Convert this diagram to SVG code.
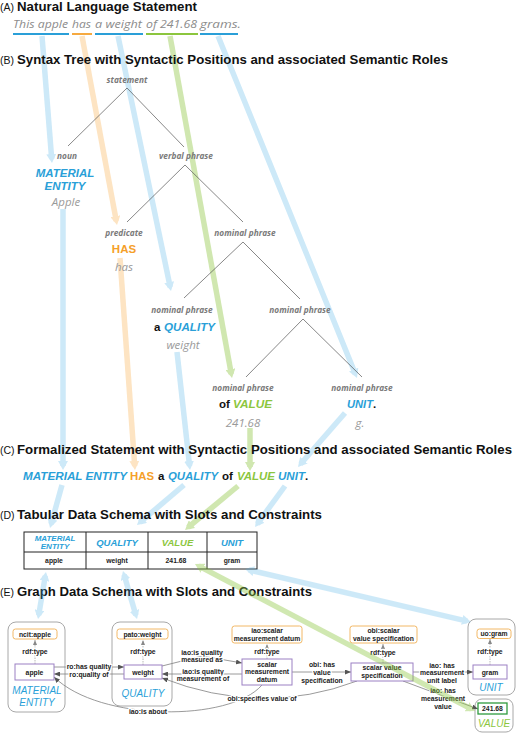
<svg xmlns="http://www.w3.org/2000/svg" width="520" height="739" viewBox="0 0 520 739">
<defs>
<style>
.title{font-family:"Liberation Sans",Arial,sans-serif;font-weight:bold;font-size:13.3px;fill:#111}
.tag{font-family:"Liberation Sans",Arial,sans-serif;font-size:10.5px;fill:#111}
.sent{font-family:"Open Sans",sans-serif;font-style:italic;font-size:11.5px;fill:#8c8c8c}
.syn{font-family:"Open Sans",sans-serif;font-style:italic;font-weight:bold;font-size:8.3px;fill:#7a7a7a;text-anchor:middle}
.word{font-family:"Open Sans",sans-serif;font-style:italic;font-size:11.5px;fill:#9a9a9a;text-anchor:middle}
.role{font-family:"Liberation Sans",Arial,sans-serif;font-style:italic;font-weight:bold;font-size:11.5px}
.blue{fill:#2a9fd8}.orange{fill:#f5a02a}.green{fill:#8cc63e}
.blk{fill:#111;font-style:normal}.up{font-style:normal}
.tree{stroke:#555;stroke-width:0.7;fill:none}
.ul{stroke-width:1.8;fill:none}
.big{stroke-width:5.5;fill:none}
.outer{fill:#fff;stroke:#a8a8a8;stroke-width:1}
.cls{fill:#fff;stroke:#f2b866;stroke-width:1}
.inst{fill:#fff;stroke:#9b80c3;stroke-width:1}
.gt{font-family:"Liberation Sans",Arial,sans-serif;font-weight:bold;font-size:6.8px;fill:#222;text-anchor:middle}
.el{stroke:#fff;stroke-width:2.5;paint-order:stroke;stroke-linejoin:round}
.edge{stroke:#808080;stroke-width:0.8;fill:none;marker-end:url(#ah)}
.typ{stroke:#999;stroke-width:0.7;fill:none;stroke-dasharray:1.5 1;marker-end:url(#ah2)}
.gl{font-family:"Liberation Sans",Arial,sans-serif;font-style:italic;font-size:10px;text-anchor:middle}
.th{font-family:"Liberation Sans",Arial,sans-serif;font-style:italic;font-weight:bold;font-size:9.5px;text-anchor:middle}
</style>
<marker id="hb" markerUnits="userSpaceOnUse" markerWidth="10" markerHeight="10" refX="5" refY="5" orient="auto-start-reverse"><path d="M0,0 L9,5 L0,10 z" fill="#cde9f8"/></marker>
<marker id="ho" markerUnits="userSpaceOnUse" markerWidth="10" markerHeight="10" refX="5" refY="5" orient="auto-start-reverse"><path d="M0,0 L9,5 L0,10 z" fill="#fde4c3"/></marker>
<marker id="hg" markerUnits="userSpaceOnUse" markerWidth="10" markerHeight="10" refX="5" refY="5" orient="auto-start-reverse"><path d="M0,0 L9,5 L0,10 z" fill="#d0e7b0"/></marker>
<marker id="hb2" markerUnits="userSpaceOnUse" markerWidth="10" markerHeight="10" refX="5" refY="5" orient="auto-start-reverse"><path d="M0,0 L9,5 L0,10 z" fill="#4fb3e8"/></marker>
<marker id="hg2" markerUnits="userSpaceOnUse" markerWidth="10" markerHeight="10" refX="5" refY="5" orient="auto-start-reverse"><path d="M0,0 L9,5 L0,10 z" fill="#8cc63e"/></marker>
<marker id="ah" markerUnits="userSpaceOnUse" markerWidth="6" markerHeight="5" refX="6" refY="2.5" orient="auto"><path d="M0,0 L6,2.5 L0,5 z" fill="#555"/></marker>
<marker id="ah2" markerUnits="userSpaceOnUse" markerWidth="5" markerHeight="4" refX="5" refY="2" orient="auto"><path d="M0,0 L5,2 L0,4 z" fill="#888"/></marker>
</defs>
<rect width="520" height="739" fill="#fff"/>

<!-- big flow connectors (behind text) -->
<g id="connectors-flow">
<path class="big" stroke="#cde9f8" marker-end="url(#hb)" d="M42,36 L51.7,159"/>
<path class="big" stroke="#cde9f8" marker-end="url(#hb)" d="M63,209 L63,466"/>
<path class="big" stroke="#fde4c3" marker-end="url(#ho)" d="M82,36 L116.3,221.1"/>
<path class="big" stroke="#fde4c3" marker-end="url(#ho)" d="M120,258 L134.7,466"/>
<path class="big" stroke="#cde9f8" marker-end="url(#hb)" d="M118,36 L170.2,287.1"/>
<path class="big" stroke="#cde9f8" marker-end="url(#hb)" d="M177,352 L189.6,466"/>
<path class="big" stroke="#d0e7b0" marker-end="url(#hg)" d="M170,36 L231.3,374.1"/>
<path class="big" stroke="#d0e7b0" marker-end="url(#hg)" d="M250,428 L250,467"/>
<path class="big" stroke="#cde9f8" marker-end="url(#hb)" d="M218,36 L355.5,374.3"/>
<path class="big" stroke="#cde9f8" marker-end="url(#hb)" d="M345,413 L300.6,464"/>
<path class="big" stroke="#cde9f8" marker-end="url(#hb)" d="M62,485 L51.1,524.1"/>
<path class="big" stroke="#cde9f8" marker-end="url(#hb)" d="M184,485 L140,522.4"/>
<path class="big" stroke="#d0e7b0" marker-end="url(#hg)" d="M238,486 L188.1,527.4"/>
<path class="big" stroke="#cde9f8" marker-end="url(#hb)" d="M285,486 L257.4,523.8"/>
</g>

<!-- Section titles -->
<g id="titles">
<text class="tag" x="0" y="10.5">(A)</text>
<text class="title" x="17" y="10.5" textLength="180" lengthAdjust="spacingAndGlyphs">Natural Language Statement</text>
<text class="tag" x="0" y="64">(B)</text>
<text class="title" x="17" y="64" textLength="431" lengthAdjust="spacingAndGlyphs">Syntax Tree with Syntactic Positions and associated Semantic Roles</text>
<text class="tag" x="0" y="454">(C)</text>
<text class="title" x="17" y="454" textLength="495" lengthAdjust="spacingAndGlyphs">Formalized Statement with Syntactic Positions and associated Semantic Roles</text>
<text class="tag" x="0" y="519">(D)</text>
<text class="title" x="17" y="519" textLength="305" lengthAdjust="spacingAndGlyphs">Tabular Data Schema with Slots and Constraints</text>
<text class="tag" x="0" y="596">(E)</text>
<text class="title" x="17" y="596" textLength="295" lengthAdjust="spacingAndGlyphs">Graph Data Schema with Slots and Constraints</text>
</g>

<!-- (A) sentence -->
<g id="sentence">
<text class="sent" x="13" y="28" textLength="55" lengthAdjust="spacingAndGlyphs">This apple</text>
<text class="sent" x="72" y="28" textLength="19" lengthAdjust="spacingAndGlyphs">has</text>
<text class="sent" x="95" y="28" textLength="47" lengthAdjust="spacingAndGlyphs">a weight</text>
<text class="sent" x="146" y="28" textLength="51" lengthAdjust="spacingAndGlyphs">of 241.68</text>
<text class="sent" x="200" y="28" textLength="41" lengthAdjust="spacingAndGlyphs">grams.</text>
<path class="ul" stroke="#2a9fd8" d="M13,34 H69"/>
<path class="ul" stroke="#f5a02a" d="M72,34 H92"/>
<path class="ul" stroke="#2a9fd8" d="M95,34 H143"/>
<path class="ul" stroke="#8cc63e" d="M146,34 H198"/>
<path class="ul" stroke="#2a9fd8" d="M200,34 H238"/>
</g>

<!-- (B) syntax tree -->
<g id="tree-lines">
<path class="tree" d="M68,146 L127,88 L184,147"/>
<path class="tree" d="M127,222 L185,165 L243,222"/>
<path class="tree" d="M184,298 L243,242 L300,299"/>
<path class="tree" d="M246,377 L303,319 L362,377"/>
</g>
<g id="node-statement"><text class="syn" x="127" y="83">statement</text></g>
<g id="node-noun">
<text class="syn" x="67" y="159">noun</text>
<text class="role blue" x="65" y="176.5" text-anchor="middle">MATERIAL</text>
<text class="role blue" x="65" y="190" text-anchor="middle">ENTITY</text>
<text class="word" x="66" y="205.5">Apple</text>
</g>
<g id="node-verbal"><text class="syn" x="186" y="159">verbal phrase</text></g>
<g id="node-predicate">
<text class="syn" x="124" y="236">predicate</text>
<text class="role orange up" x="124" y="253" text-anchor="middle">HAS</text>
<text class="word" x="124" y="271">has</text>
</g>
<g id="node-np1"><text class="syn" x="245" y="236">nominal phrase</text></g>
<g id="node-np-quality">
<text class="syn" x="182" y="313">nominal phrase</text>
<text class="role" x="154" y="331"><tspan class="blk">a</tspan></text>
<text class="role blue" x="164" y="331" textLength="51" lengthAdjust="spacingAndGlyphs">QUALITY</text>
<text class="word" x="183" y="349">weight</text>
</g>
<g id="node-np2"><text class="syn" x="300" y="313">nominal phrase</text></g>
<g id="node-np-value">
<text class="syn" x="243" y="391">nominal phrase</text>
<text class="role blk" x="219" y="408">of</text>
<text class="role green" x="233" y="408" textLength="39" lengthAdjust="spacingAndGlyphs">VALUE</text>
<text class="word" x="243" y="427">241.68</text>
</g>
<g id="node-np-unit">
<text class="syn" x="362" y="391">nominal phrase</text>
<text class="role blue" x="347" y="408" textLength="26" lengthAdjust="spacingAndGlyphs">UNIT</text>
<text class="role blk" x="373" y="408">.</text>
<text class="word" x="360" y="427">g.</text>
</g>

<!-- (C) formal statement -->
<g id="formal-statement">
<text class="role blue" x="23" y="480" textLength="104" lengthAdjust="spacingAndGlyphs">MATERIAL ENTITY</text>
<text class="role orange up" x="130" y="480" textLength="24" lengthAdjust="spacingAndGlyphs">HAS</text>
<text class="role blk" x="158" y="480">a</text>
<text class="role blue" x="168" y="480" textLength="50" lengthAdjust="spacingAndGlyphs">QUALITY</text>
<text class="role blk" x="222" y="480">of</text>
<text class="role green" x="237" y="480" textLength="38" lengthAdjust="spacingAndGlyphs">VALUE</text>
<text class="role blue" x="278" y="480" textLength="27" lengthAdjust="spacingAndGlyphs">UNIT</text>
<text class="role blk" x="305" y="480">.</text>
</g>

<!-- (D) table -->
<g id="table">
<rect x="24" y="532" width="233" height="37" fill="#fff" stroke="#222" stroke-width="1"/>
<path d="M24,552 H257 M86,532 V569 M148,532 V569 M207,532 V569" stroke="#222" stroke-width="1" fill="none"/>
<text class="th blue" x="55" y="541" style="font-size:8px">MATERIAL</text>
<text class="th blue" x="55" y="548.5" style="font-size:8px">ENTITY</text>
<text class="th blue" x="117" y="546">QUALITY</text>
<text class="th green" x="177.5" y="546">VALUE</text>
<text class="th blue" x="232" y="546">UNIT</text>
<text class="gt" x="54" y="563">apple</text>
<text class="gt" x="117" y="563">weight</text>
<text class="gt" x="176" y="563">241.68</text>
<text class="gt" x="232" y="563">gram</text>
</g>

<!-- (E) graph -->
<g id="group-material-entity">
<rect class="outer" x="8" y="622" width="57" height="90" rx="8"/>
<text class="gl blue" x="37" y="694">MATERIAL</text>
<text class="gl blue" x="37" y="706">ENTITY</text>
</g>
<g id="group-quality">
<rect class="outer" x="112" y="622" width="60" height="84" rx="8"/>
<text class="gl blue" x="143" y="697">QUALITY</text>
</g>
<g id="group-unit">
<rect class="outer" x="468" y="619" width="47" height="76" rx="8"/>
<text class="gl blue" x="491" y="691">UNIT</text>
</g>
<g id="group-value">
<rect class="outer" x="475" y="699" width="38" height="33" rx="7"/>
<text class="gl green" x="494" y="727">VALUE</text>
</g>

<g id="connectors-graph">
<path class="typ" d="M35,664 V640"/>
<path class="typ" d="M143,665 V640"/>
<path class="typ" d="M267,659 V644"/>
<path class="typ" d="M383,663 V644"/>
<path class="typ" d="M490,665 V639"/>
<path class="edge" d="M54,667 H124"/>
<path class="edge" d="M124,674 H54"/>
<path class="edge" d="M162,666 L202,656 L242,663"/>
<path class="edge" d="M242,674 H162"/>
<path class="edge" d="M292,672 H351"/>
<path class="edge" d="M413,672 H473"/>
<path class="edge" d="M403,681 L478,709"/>
<path class="edge" d="M357,681 Q262,717 162,678"/>
<path class="edge" d="M262,685 C230,722 100,722 54,677"/>
<text class="gt el" x="35" y="654">rdf:type</text>
<text class="gt el" x="143" y="654">rdf:type</text>
<text class="gt el" x="267" y="653.5">rdf:type</text>
<text class="gt el" x="383" y="654.5">rdf:type</text>
<text class="gt el" x="490" y="653.5">rdf:type</text>
<text class="gt el" x="89" y="668.5">ro:has quality</text>
<text class="gt el" x="89" y="676.5">ro:quality of</text>
<text class="gt el" x="202" y="654.5">iao:is quality</text>
<text class="gt el" x="202" y="662">measured as</text>
<text class="gt el" x="203" y="673.5">iao:is quality</text>
<text class="gt el" x="203" y="681">measurement of</text>
<text class="gt el" x="322" y="666.5">obi: has</text>
<text class="gt el" x="322" y="674.5">value</text>
<text class="gt el" x="322" y="682.5">specification</text>
<text class="gt el" x="442" y="667.5">iao: has</text>
<text class="gt el" x="442" y="675">measurement</text>
<text class="gt el" x="442" y="682.5">unit label</text>
<text class="gt el" x="443" y="693">iao: has</text>
<text class="gt el" x="443" y="700.5">measurement</text>
<text class="gt el" x="443" y="708.5">value</text>
<text class="gt el" x="262" y="700.5">obi:specifies value of</text>
<text class="gt el" x="148" y="713.5">iao:is about</text>
</g>

<g id="node-ncit-apple"><rect class="cls" x="13" y="629" width="44" height="10" rx="2.5"/><text class="gt" x="35" y="636.8">ncit:apple</text></g>
<g id="node-pato-weight"><rect class="cls" x="117" y="629" width="51" height="10" rx="2.5"/><text class="gt" x="142.5" y="636.8">pato:weight</text></g>
<g id="node-iao-smd"><rect class="cls" x="232" y="626" width="70" height="17" rx="2.5"/><text class="gt" x="267" y="633">iao:scalar</text><text class="gt" x="267" y="640.8">measurement datum</text></g>
<g id="node-obi-svs"><rect class="cls" x="350" y="626" width="67" height="17" rx="2.5"/><text class="gt" x="383.5" y="633">obi:scalar</text><text class="gt" x="383.5" y="640.8">value specification</text></g>
<g id="node-uo-gram"><rect class="cls" x="477" y="629" width="34" height="9.5" rx="2.5"/><text class="gt" x="494" y="636.3">uo:gram</text></g>

<g id="node-apple"><rect class="inst" x="15" y="664" width="39" height="16"/><text class="gt" x="34.5" y="674.5">apple</text></g>
<g id="node-weight"><rect class="inst" x="124" y="665" width="38" height="14"/><text class="gt" x="143" y="674.5">weight</text></g>
<g id="node-smd"><rect class="inst" x="242" y="659" width="50" height="26"/><text class="gt" x="267" y="666.5">scalar</text><text class="gt" x="267" y="674.3">measurement</text><text class="gt" x="267" y="682">datum</text></g>
<g id="node-svs"><rect class="inst" x="351" y="663" width="62" height="18"/><text class="gt" x="382" y="670.3">scalar value</text><text class="gt" x="382" y="678">specification</text></g>
<g id="node-gram"><rect class="inst" x="473" y="665" width="34" height="14"/><text class="gt" x="490" y="674.5">gram</text></g>
<g id="node-value"><rect x="478" y="703" width="29" height="11" fill="#fff" stroke="#2e9b3e" stroke-width="1.3"/><text class="gt" x="492.5" y="711">241.68</text></g>

<!-- table to graph connectors (overlay) -->
<g id="connectors-table-graph">
<g opacity="0.28">
<path class="big" stroke="#4fb3e8" marker-start="url(#hb2)" marker-end="url(#hb2)" d="M45.3,575.9 L38.7,615.1"/>
<path class="big" stroke="#4fb3e8" marker-start="url(#hb2)" marker-end="url(#hb2)" d="M124.1,574.8 L135.9,615.2"/>
<path class="big" stroke="#4fb3e8" marker-start="url(#hb2)" marker-end="url(#hb2)" d="M248.9,569.9 L467.1,621.1"/>
</g>
<g opacity="0.4">
<path class="big" stroke="#8cc63e" marker-start="url(#hg2)" marker-end="url(#hg2)" d="M198.5,565.9 L471.5,709.1"/>
</g>
</g>
</svg>
